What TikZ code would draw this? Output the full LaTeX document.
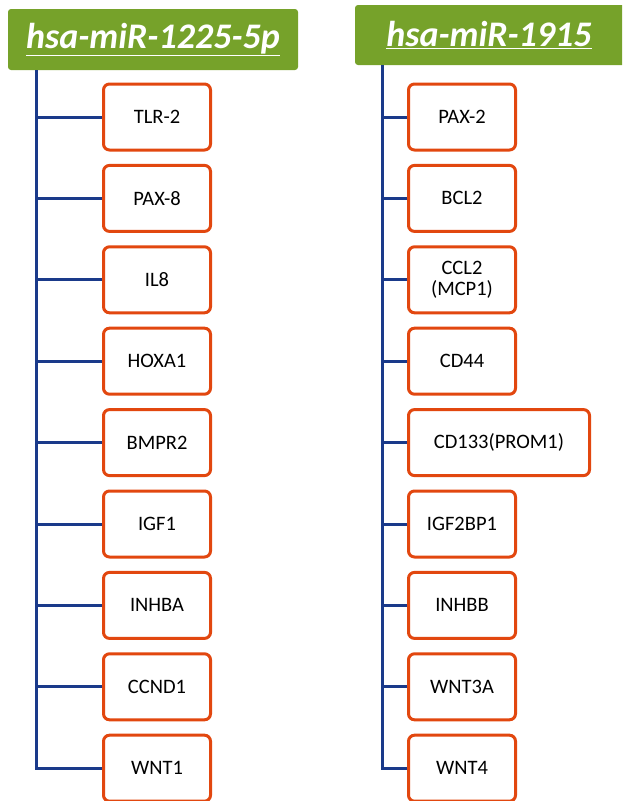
\documentclass[tikz,border=0pt]{standalone}
\usepackage{fontspec}
\newfontfamily\calib{Carlito}
\definecolor{mirgreen}{HTML}{76A22A}
\definecolor{geneorange}{HTML}{E2470F}
\definecolor{linkblue}{HTML}{1A3A8A}
\tikzset{
  mirhead/.style={fill=mirgreen,rounded corners=3pt,text=white,
    font=\calib\bfseries\itshape\fontsize{36}{40}\selectfont,inner sep=0pt},
  gene/.style={draw=geneorange,line width=3pt,rounded corners=6pt,fill=white,
    anchor=west,minimum width=107pt,minimum height=66pt,align=center,
    font=\calib\fontsize{20.5}{24}\selectfont},
  bus/.style={draw=linkblue,line width=3pt}
}
\begin{document}
\begin{tikzpicture}[x=1pt,y=-1pt]
	  \useasboundingbox (0,0) rectangle (622,801);
	  \clip (0,0) rectangle (622,801);
	  % headers
	  \node[mirhead,minimum width=290pt,minimum height=61pt] (m1225) at (153,39.5) {\underline{hsa-miR-1225-5p}};
	  \node[mirhead,minimum width=272pt,minimum height=60pt] (m1915) at (491,35) {\underline{hsa-miR-1915}\hspace*{4pt}};
	  \coordinate (trunkL) at (36,70);
	  \coordinate (trunkR) at (382,65);
	  % targets of hsa-miR-1225-5p
	  \node[gene] (t1) at (102,117) {TLR-2};
	  \node[gene] (t2) at (102,198.4) {PAX-8};
	  \node[gene] (t3) at (102,279.8) {IL8};
	  \node[gene] (t4) at (102,361.2) {HOXA1};
	  \node[gene] (t5) at (102,442.6) {BMPR2};
	  \node[gene] (t6) at (102,524) {IGF1};
	  \node[gene] (t7) at (102,605.4) {INHBA};
	  \node[gene] (t8) at (102,686.8) {CCND1};
	  \node[gene] (t9) at (102,768.2) {WNT1};
	  % targets of hsa-miR-1915
	  \node[gene] (u1) at (407,117) {PAX-2};
	  \node[gene] (u2) at (407,198.4) {BCL2};
	  \node[gene] (u3) at (407,279.8) {CCL2\\[-3pt](MCP1)};
	  \node[gene] (u4) at (407,361.2) {CD44};
	  \node[gene,minimum width=181pt] (u5) at (407,442.6) {CD133(PROM1)};
	  \node[gene] (u6) at (407,524) {IGF2BP1};
	  \node[gene] (u7) at (407,605.4) {INHBB};
	  \node[gene] (u8) at (407,686.8) {WNT3A};
	  \node[gene] (u9) at (407,768.2) {WNT4};
	  % trunks and branches
	  \draw[bus] (trunkL) |- (t9.west);
	  \draw[bus] (trunkR) |- (u9.west);
	  \foreach \i in {1,...,8} {
	    \draw[bus] (t\i.west) -- (t\i.west -| trunkL);
	    \draw[bus] (u\i.west) -- (u\i.west -| trunkR);
	  }
	\end{tikzpicture}
\end{document}
